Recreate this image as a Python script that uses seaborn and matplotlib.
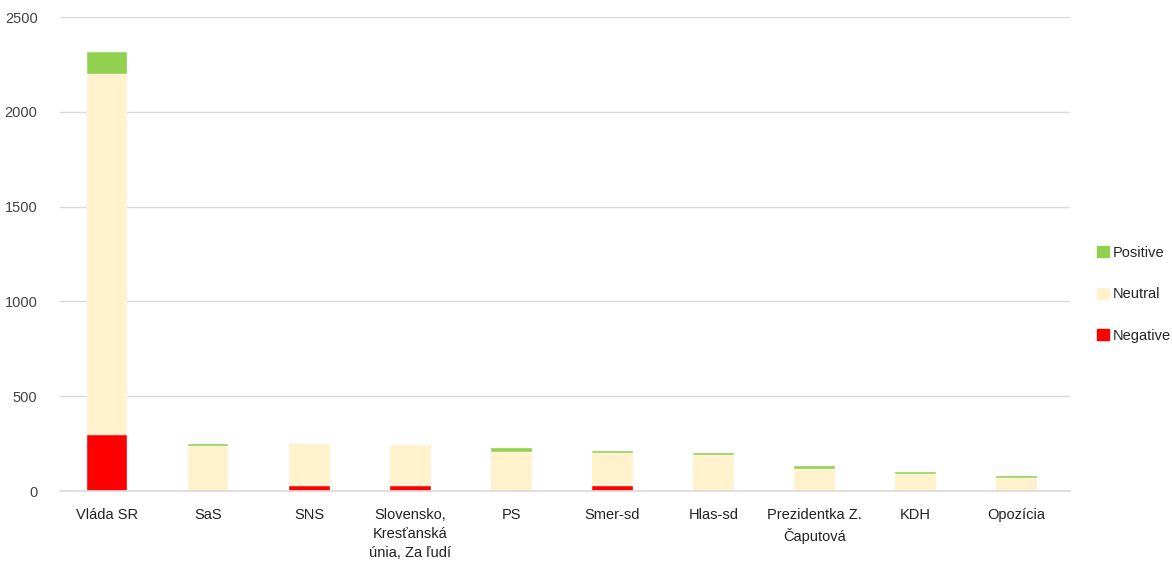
import matplotlib
matplotlib.use('Agg')
import matplotlib.pyplot as plt
import matplotlib.patches as mpatches
import seaborn as sns
import pandas as pd

# data
parties = ['Vláda SR', 'SaS', 'SNS', 'Slovensko,\nKresťanská\núnia, Za ľudí', 'PS',
           'Smer-sd', 'Hlas-sd', 'Prezidentka Z.\nČaputová', 'KDH', 'Opozícia']
negative = [295, 0, 26, 26, 0, 26, 0, 0, 0, 0]
neutral = [1903, 240, 222, 215, 207, 173, 191, 114, 91, 69]
positive = [116, 8, 0, 0, 18, 12, 10, 18, 10, 10]

col_pos = '#92d050'
col_neu = '#fff2cc'
col_neg = '#ff0000'

df = pd.DataFrame({'party': parties, 'neg': negative, 'neu': neutral, 'pos': positive})
df['neg_neu'] = df['neg'] + df['neu']
df['total'] = df['neg_neu'] + df['pos']

sns.set_style('white')
plt.rcParams['font.family'] = ['Liberation Sans Narrow', 'Liberation Sans', 'DejaVu Sans']

fig, ax = plt.subplots(figsize=(11.72, 5.77), dpi=100)
fig.subplots_adjust(left=0.051, right=0.913, bottom=0.149, top=0.9705)

# stacked by overdrawing cumulative totals
sns.barplot(data=df, x='party', y='total', color=col_pos, width=0.4, saturation=1,
            edgecolor='#fafafa', linewidth=0.3, ax=ax)
sns.barplot(data=df, x='party', y='neg_neu', color=col_neu, width=0.4, saturation=1,
            edgecolor='#fafafa', linewidth=0.3, ax=ax)
sns.barplot(data=df, x='party', y='neg', color=col_neg, width=0.4, saturation=1,
            edgecolor='#fafafa', linewidth=0.3, ax=ax)

ax.set_ylim(0, 2500)
ax.set_yticks([0, 500, 1000, 1500, 2000, 2500])
ax.set_xlim(-0.47, 9.53)
ax.yaxis.grid(True, color='#d9d9d9', linewidth=1)
ax.set_axisbelow(True)
for s in ['top', 'right', 'left']:
    ax.spines[s].set_visible(False)
ax.spines['bottom'].set_color('#d9d9d9')
ax.spines['bottom'].set_linewidth(1.2)
ax.tick_params(axis='both', length=0, labelsize=10.5, colors='#222222')
ax.tick_params(axis='y', pad=16, colors='#444444')
ax.tick_params(axis='x', pad=12)
for lbl in ax.get_xticklabels():
    lbl.set_linespacing(1.45)
ax.set_xlabel('')
ax.set_ylabel('')

handles = [mpatches.Patch(color=col_pos, label='Positive'),
           mpatches.Patch(color=col_neu, label='Neutral'),
           mpatches.Patch(color=col_neg, label='Negative')]
fig.legend(handles=handles, loc='center left', bbox_to_anchor=(0.925, 0.49),
           frameon=False, fontsize=10.5, labelspacing=1.9, handlelength=0.8,
           handleheight=0.8, handletextpad=0.25)

fig.savefig('out.png', dpi=100)
